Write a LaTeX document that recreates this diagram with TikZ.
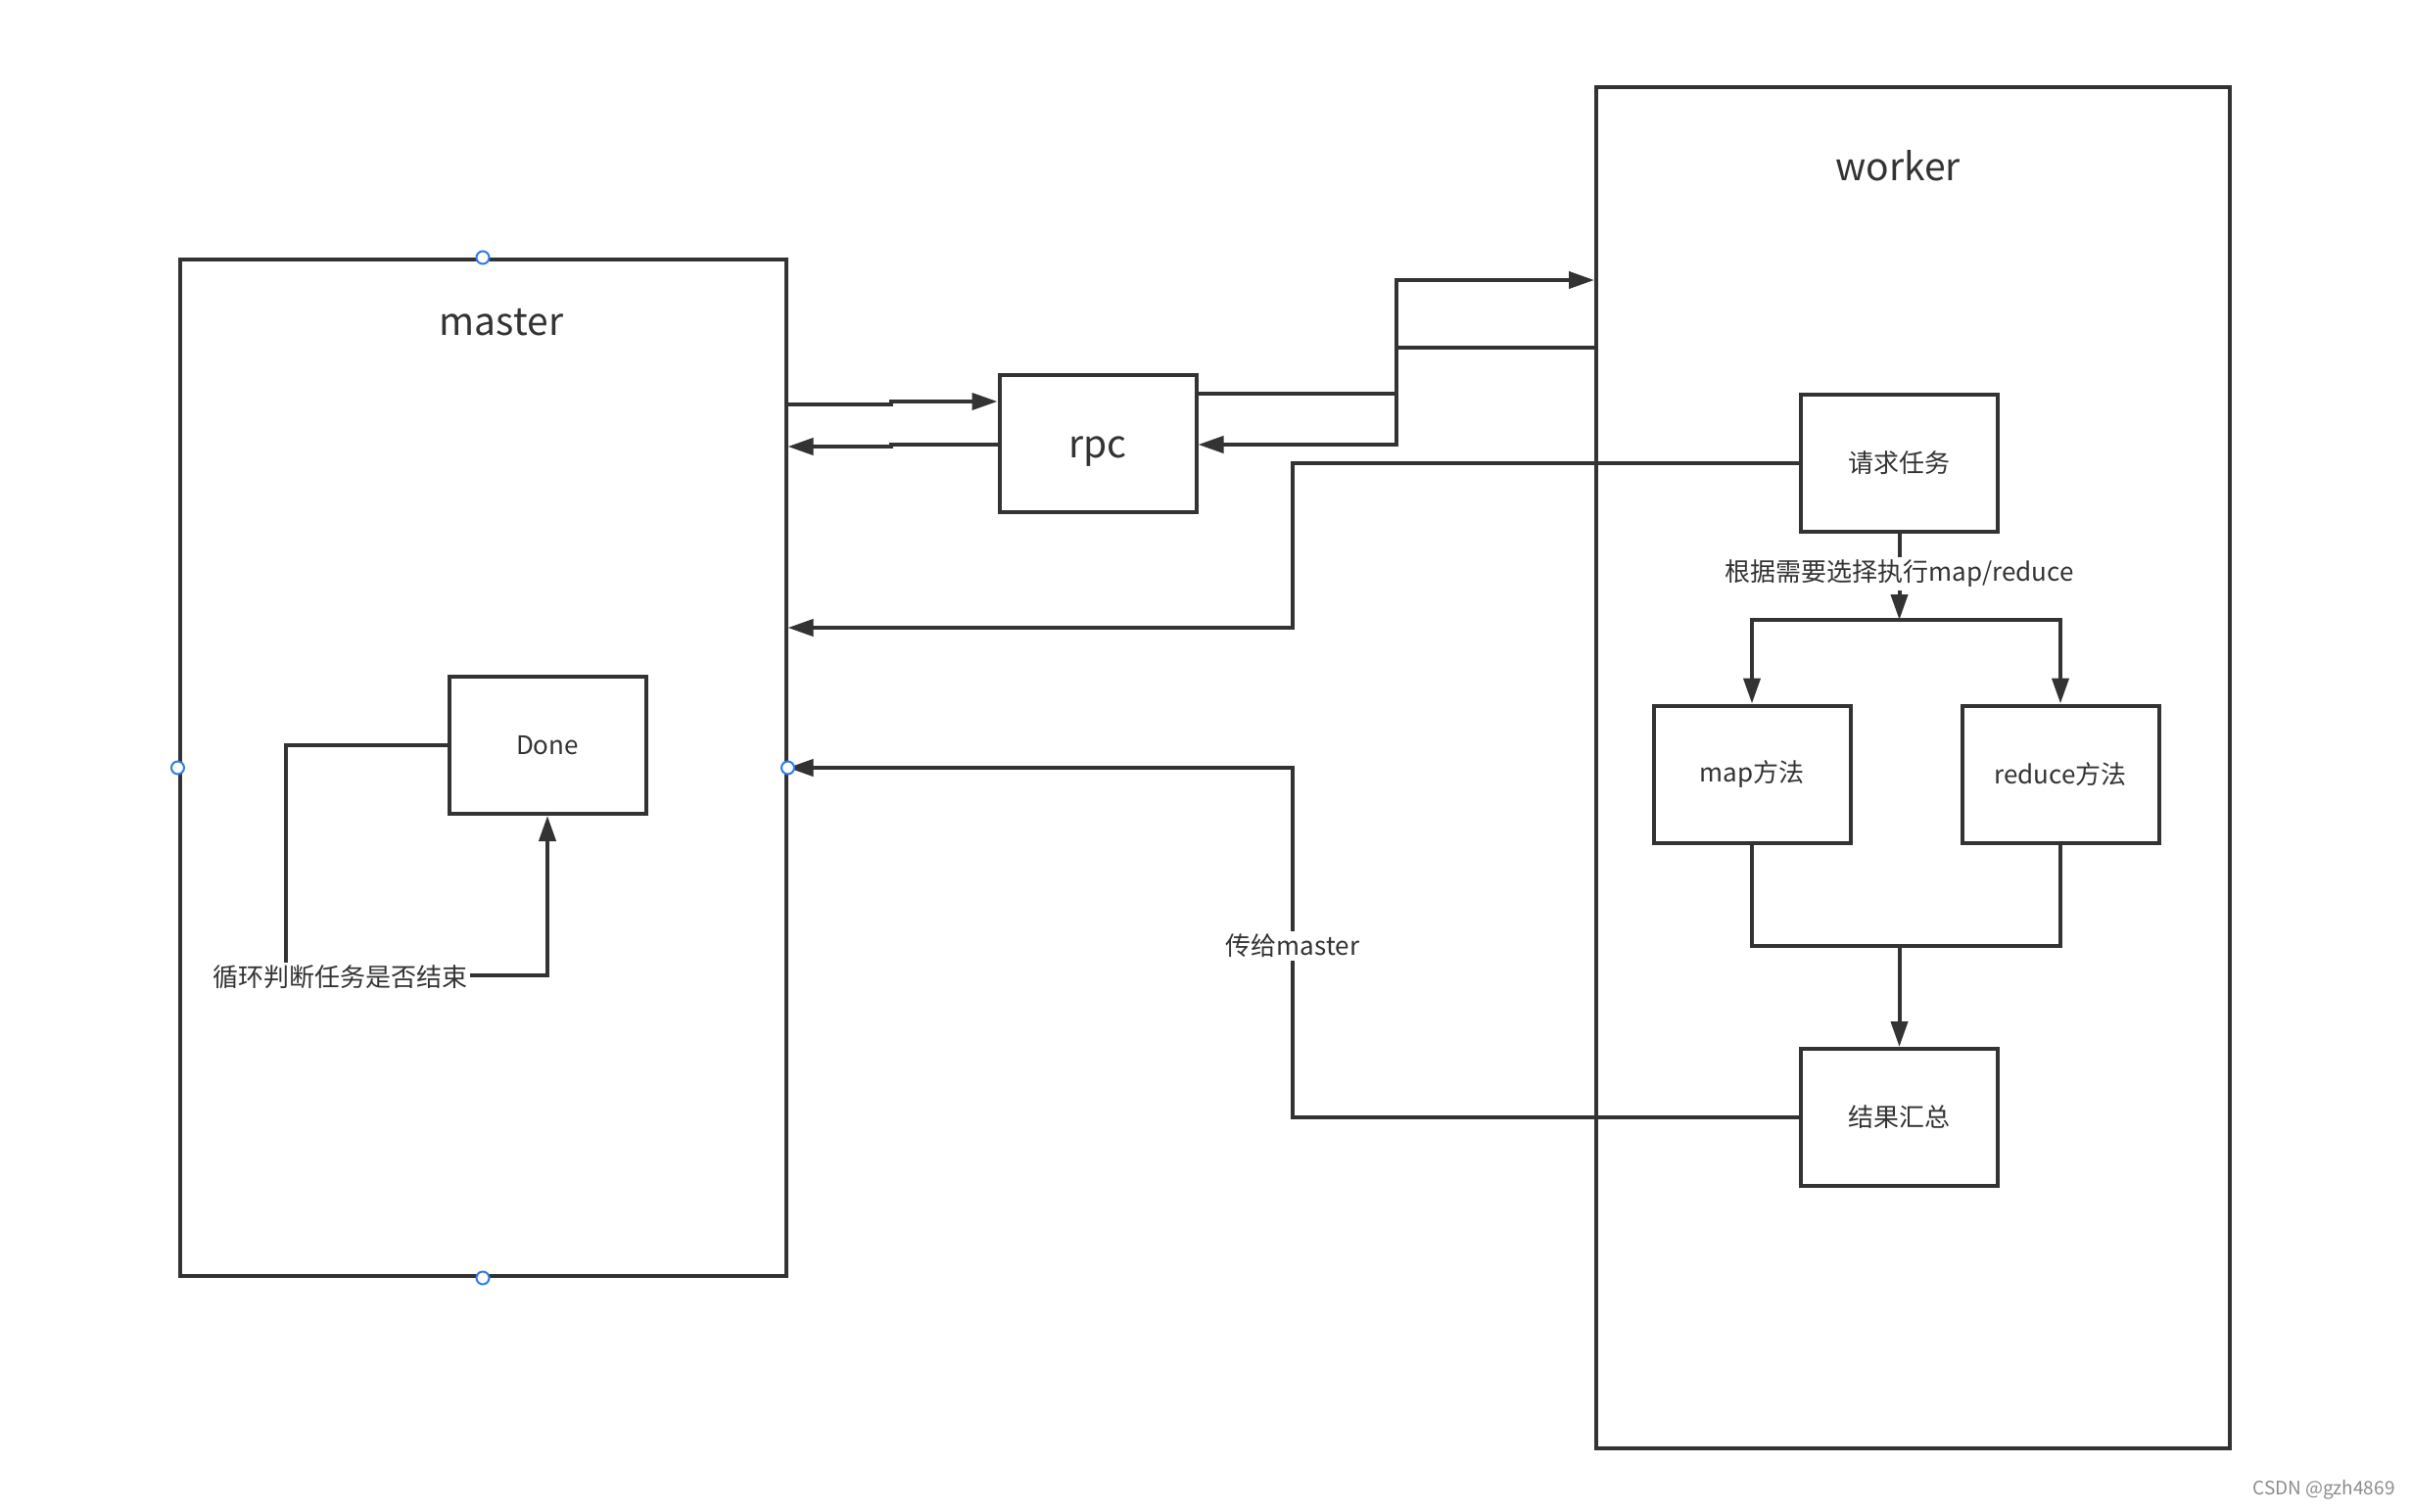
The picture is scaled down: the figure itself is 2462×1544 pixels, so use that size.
\documentclass[tikz,border=0pt]{standalone}
\usepackage{fontspec}
\setmainfont{Noto Sans CJK SC}
\usetikzlibrary{arrows.meta,calc}
\definecolor{ink}{HTML}{333333}
\definecolor{handle}{HTML}{2F7BEA}
\begin{document}
\begin{tikzpicture}[x=1pt,y=-1pt,
  box/.style={draw=ink,line width=4pt,minimum width=201pt,minimum height=140pt,inner sep=0pt,font=\fontsize{26}{30}\selectfont,text=ink},
  big/.style={draw=ink,line width=4pt,inner sep=0pt},
  title/.style={font=\fontsize{39}{44}\selectfont,text=ink},
  conn/.style={draw=ink,line width=4pt},
  arr/.style={conn,-{Triangle[length=26pt,width=17pt]}},
  lbl/.style={fill=white,inner sep=3pt,font=\fontsize{26}{30}\selectfont,text=ink},
  hdl/.style={circle,draw=handle,fill=white,line width=2pt,minimum size=13pt,inner sep=0pt}]
\useasboundingbox (0,0) rectangle (2462,1544);

% containers
\node[big,minimum width=619pt,minimum height=1038pt] (master) at (493,784) {};
\node[title] (mt) at (512,329) {master};
\node[big,minimum width=647pt,minimum height=1390pt] (worker) at (1953.5,784) {};
\node[title] (wt) at (1938,169) {worker};

% boxes
\node[box,font=\fontsize{39}{44}\selectfont] (rpc) at (1121,453) {\raisebox{-14pt}[0pt][0pt]{rpc}};
\node[box] (req) at (1939.5,473) {请求任务};
\node[box] (map) at (1789,790.5) {map方法};
\node[box] (reduce) at (2104,790.5) {reduce方法};
\node[box] (sum) at (1939.5,1141) {结果汇总};
\node[box] (done) at (559,761) {Done};

% master <-> rpc
\draw[arr] (master.east|-0,413) -- (910,413) -- (910,410) -- (rpc.west|-0,410);
\draw[arr] (rpc.west|-0,454) -- (910,454) -- (910,456) -- (master.east|-0,456);

% rpc <-> worker
\draw[arr] (rpc.east|-0,402) -- (1426,402) -- (1426,286) -- (worker.west|-0,286);
\draw[arr] (worker.west|-0,355) -- (1426,355) -- (1426,454) -- (rpc.east|-0,454);

% request -> master
\draw[arr] (req.west) -- (1320,473) -- (1320,641) -- (master.east|-0,641);

% request -> map / reduce
\coordinate (split) at (req.south|-0,633);
\draw[arr] (req.south) -- (split);
\node[lbl] (choose) at (1939.5,586) {根据需要选择执行map/reduce};
\draw[arr] (split) -| (map.north);
\draw[arr] (split) -| (reduce.north);

% map / reduce -> sum
\coordinate (merge) at (sum.north|-0,966);
\draw[conn] (map.south) |- (reduce.south|-0,966) -- (reduce.south);
\draw[arr] (merge) -- (sum.north);

% sum -> master
\draw[arr] (sum.west) -| (1320,900) |- (master.east);
\node[lbl] (give) at (1320,966) {传给master};

% done loop
\draw[arr] (done.west) -| (292,996) -| (done.south);
\node[lbl] (loop) at (347,998) {循环判断任务是否结束};

% selection handles
\node[hdl] (h1) at (master.north) {};
\node[hdl] (h2) at (master.south) {};
\node[hdl] (h3) at (master.west) {};
\node[hdl] (h4) at (master.east) {};

% watermark
\node[font=\fontsize{19}{22}\selectfont,text=black!45] (wm) at (2373,1521) {CSDN @gzh4869};
\end{tikzpicture}
\end{document}
